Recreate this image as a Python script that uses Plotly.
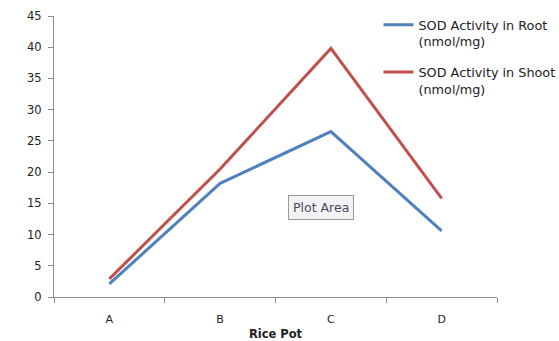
import plotly.graph_objects as go

categories = ["A", "B", "C", "D"]
root_values = [2.1, 18.2, 26.5, 10.6]
shoot_values = [2.9, 20.5, 39.8, 15.8]
series_names = ["SOD Activity in Root<br>(nmol/mg)", "SOD Activity in Shoot<br>(nmol/mg)"]
y_ticks = [0, 5, 10, 15, 20, 25, 30, 35, 40, 45]

FONT = "DejaVu Sans"
fig = go.Figure()
fig.add_trace(go.Scatter(x=categories, y=root_values, mode="lines", name=series_names[0],
                         legendgroup="root", line=dict(color="#4F81BD", width=3)))
fig.add_trace(go.Scatter(x=categories, y=shoot_values, mode="lines", name=series_names[1],
                         legendgroup="shoot", line=dict(color="#C0504D", width=3)))

fig.update_layout(
    width=559, height=341,
    margin=dict(l=54, r=62, t=16, b=44, autoexpand=False),
    paper_bgcolor="white", plot_bgcolor="white",
    font=dict(family=FONT, size=11, color="#222222"),
    showlegend=True,
    legend=dict(x=0.7325, xanchor="left", xref="paper", y=1 - 10 / 341, yref="container",
                yanchor="top", valign="top", tracegroupgap=11, bgcolor="rgba(0,0,0,0)",
                itemwidth=30,
                font=dict(family=FONT, size=12.8, color="#222222")),
    xaxis=dict(type="category", range=[-0.5, 3.5], showline=True, linecolor="#8c8c8c",
               linewidth=1, ticks="outside", tickson="boundaries", ticklen=5,
               tickcolor="#8c8c8c", showgrid=False, zeroline=False, automargin=False,
               ticklabelstandoff=12,
               title=dict(text="<b>Rice Pot</b>", standoff=4,
                          font=dict(family=FONT, size=11.5, color="#222222"))),
    yaxis=dict(range=[0, 45], tickvals=y_ticks, showline=True, linecolor="#8c8c8c",
               linewidth=1, ticks="outside", ticklen=5, tickcolor="#8c8c8c",
               showgrid=False, zeroline=False, automargin=False, ticklabelstandoff=4,
               tickfont=dict(family=FONT, size=11.5)),
    annotations=[dict(text="Plot Area", xref="paper", yref="paper", x=0.603, y=0.32,
                      xanchor="center", yanchor="middle",
                      showarrow=False, bgcolor="#f3f3f6", bordercolor="#9a9a9a",
                      borderwidth=1, borderpad=4,
                      font=dict(family=FONT, size=12.5, color="#4a4a5a"))],
)

fig.write_html("out.html")
